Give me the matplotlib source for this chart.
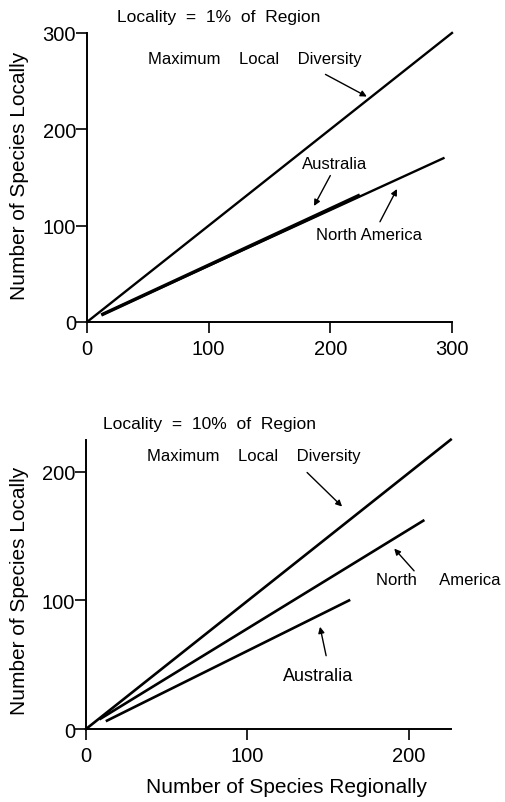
import matplotlib
matplotlib.use("Agg")
import matplotlib.pyplot as plt

plt.rcParams["font.family"] = ["Liberation Sans", "DejaVu Sans"]

# top panel: locality = 1% of region (line end points)
top_max_x = [0, 300]
top_max_y = [0, 300]
top_na_x = [13, 293]
top_na_y = [8, 170]
top_au_x = [13, 223]
top_au_y = [8, 131]
top_ticks = [0, 100, 200, 300]

# bottom panel: locality = 10% of region
bot_max_x = [0, 226]
bot_max_y = [0, 225]
bot_na_x = [9, 209]
bot_na_y = [8, 162]
bot_au_x = [13, 163]
bot_au_y = [6.5, 100]
bot_ticks = [0, 100, 200]

fig = plt.figure(figsize=(5.05, 8.03), dpi=100)
ax1 = fig.add_axes([0.1723, 0.5978, 0.7227, 0.3599])
ax2 = fig.add_axes([0.1703, 0.0909, 0.7222, 0.3603])


def style(ax, ticks, xmax, ymax):
    ax.set_xlim(0, xmax)
    ax.set_ylim(0, ymax)
    ax.set_xticks(ticks)
    ax.set_yticks(ticks)
    for s in ("top", "right"):
        ax.spines[s].set_visible(False)
    for s in ("left", "bottom"):
        ax.spines[s].set_linewidth(1.4)
    ax.tick_params(direction="out", length=8, width=1.2, labelsize=14.5)
    ax.tick_params(axis="y", pad=0)
    ax.tick_params(axis="x", pad=4)


arrow = dict(arrowstyle="-|>", lw=1.0, color="black", mutation_scale=9,
             shrinkA=0, shrinkB=0)
tfont = dict(fontsize=12, color="black", va="center", ha="left")

# top panel
ax1.plot(top_max_x, top_max_y, color="black", lw=1.7, clip_on=False)
ax1.plot(top_na_x, top_na_y, color="black", lw=1.7, clip_on=False)
ax1.plot(top_au_x, top_au_y, color="black", lw=2.5, clip_on=False)
style(ax1, top_ticks, 300, 300)
ax1.text(25, 317, "Locality  =  1%  of  Region", fontsize=12.5, va="center",
         ha="left", clip_on=False)
ax1.text(50, 273, "Maximum    Local    Diversity", **tfont)
ax1.annotate("", xy=(230, 234), xytext=(196, 257), arrowprops=arrow)
ax1.text(177, 164, "Australia", **tfont)
ax1.annotate("", xy=(186.6, 120.4), xytext=(200, 152), arrowprops=arrow)
ax1.text(188, 91, "North America", **tfont)
ax1.annotate("", xy=(254.8, 138), xytext=(240.8, 104), arrowprops=arrow)

# bottom panel
ax2.plot(bot_max_x, bot_max_y, color="black", lw=1.9, clip_on=False)
ax2.plot(bot_na_x, bot_na_y, color="black", lw=1.9, clip_on=False)
ax2.plot(bot_au_x, bot_au_y, color="black", lw=1.9, clip_on=False)
style(ax2, bot_ticks, 226, 225)
ax2.text(10.5, 237.7, "Locality  =  10%  of  Region", fontsize=12.5,
         va="center", ha="left", clip_on=False)
ax2.text(37.8, 212.8, "Maximum    Local    Diversity", **tfont)
ax2.annotate("", xy=(158.7, 173), xytext=(137, 199.5), arrowprops=arrow)
ax2.text(179.8, 116, "North     America", clip_on=False, **tfont)
ax2.annotate("", xy=(191, 140.3), xytext=(203.3, 123), arrowprops=arrow)
ax2.text(122, 42, "Australia", fontsize=13, va="center", ha="left")
ax2.annotate("", xy=(145, 79.5), xytext=(148.8, 57), arrowprops=arrow)

fig.text(286 / 505, 1 - 788 / 803, "Number of Species Regionally",
         fontsize=15, ha="center", va="center")
fig.text(20 / 505, 1 - 176 / 803, "Number of Species Locally", fontsize=15,
         rotation=90, ha="center", va="center")
fig.text(20 / 505, 1 - 591 / 803, "Number of Species Locally", fontsize=15,
         rotation=90, ha="center", va="center")

fig.savefig("out.png", dpi=100)
